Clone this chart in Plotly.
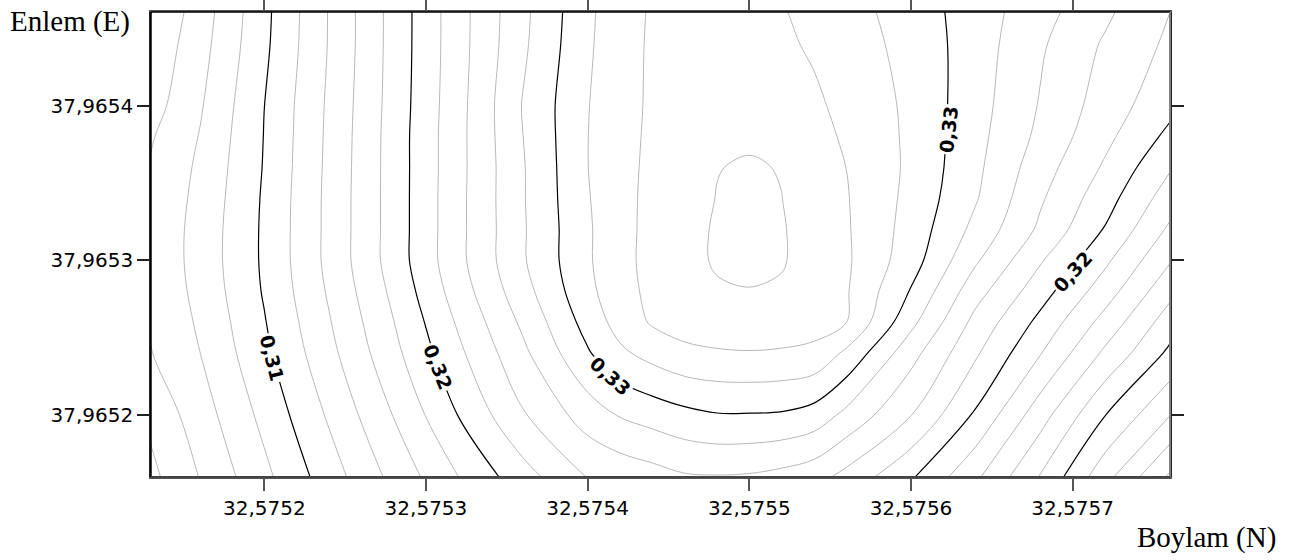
import plotly.graph_objects as go

# Longitude (Boylam) grid columns and latitude (Enlem) grid rows
lon = [32.57512, 32.57516, 32.57520, 32.57524, 32.57528, 32.57532, 32.57536,
       32.57540, 32.57542, 32.57544, 32.57546, 32.57548, 32.57550, 32.57552,
       32.57554, 32.57556, 32.57560, 32.57564, 32.57568, 32.57572, 32.57576]
lat = [37.96516, 37.96520, 37.96524, 37.96526, 37.96528, 37.96530, 37.96532,
       37.96534, 37.96536, 37.96538, 37.96540, 37.96544, 37.96548]

# Estimated field values, one row per latitude (bottom to top)
z_96516 = [0.30066, 0.30407, 0.30751, 0.31104, 0.31459, 0.31800, 0.32120, 0.32410, 0.32467, 0.32520, 0.32580, 0.32590, 0.32580, 0.32540, 0.32478, 0.32339, 0.32027, 0.31639, 0.31189, 0.30671, 0.30170]
z_96520 = [0.30170, 0.30504, 0.30856, 0.31227, 0.31608, 0.32006, 0.32382, 0.32696, 0.32816, 0.32883, 0.32947, 0.32989, 0.32990, 0.32980, 0.32919, 0.32750, 0.32406, 0.31972, 0.31486, 0.31006, 0.30610]
z_96524 = [0.30326, 0.30597, 0.30954, 0.31342, 0.31746, 0.32158, 0.32556, 0.32980, 0.33162, 0.33271, 0.33354, 0.33381, 0.33390, 0.33380, 0.33351, 0.33163, 0.32672, 0.32229, 0.31811, 0.31364, 0.30960]
z_96526 = [0.30344, 0.30628, 0.30988, 0.31385, 0.31796, 0.32226, 0.32639, 0.33077, 0.33279, 0.33423, 0.33484, 0.33511, 0.33520, 0.33510, 0.33481, 0.33404, 0.32855, 0.32339, 0.31946, 0.31530, 0.31100]
z_96528 = [0.30361, 0.30657, 0.31018, 0.31424, 0.31847, 0.32297, 0.32725, 0.33148, 0.33328, 0.33447, 0.33528, 0.33581, 0.33590, 0.33580, 0.33522, 0.33418, 0.32986, 0.32478, 0.32087, 0.31696, 0.31260]
z_96530 = [0.30370, 0.30673, 0.31031, 0.31451, 0.31889, 0.32344, 0.32779, 0.33174, 0.33343, 0.33457, 0.33545, 0.33619, 0.33668, 0.33614, 0.33527, 0.33429, 0.33090, 0.32628, 0.32221, 0.31841, 0.31420]
z_96532 = [0.30372, 0.30670, 0.31031, 0.31451, 0.31889, 0.32344, 0.32779, 0.33174, 0.33340, 0.33454, 0.33540, 0.33619, 0.33677, 0.33614, 0.33522, 0.33421, 0.33122, 0.32743, 0.32362, 0.31987, 0.31567]
z_96534 = [0.30363, 0.30654, 0.31025, 0.31451, 0.31889, 0.32344, 0.32785, 0.33186, 0.33342, 0.33449, 0.33528, 0.33605, 0.33658, 0.33602, 0.33504, 0.33413, 0.33144, 0.32817, 0.32426, 0.32082, 0.31700]
z_96536 = [0.30342, 0.30635, 0.31013, 0.31445, 0.31889, 0.32339, 0.32785, 0.33197, 0.33342, 0.33440, 0.33509, 0.33595, 0.33617, 0.33592, 0.33479, 0.33399, 0.33161, 0.32845, 0.32488, 0.32173, 0.31820]
z_96538 = [0.30307, 0.30608, 0.31006, 0.31439, 0.31889, 0.32339, 0.32799, 0.33197, 0.33342, 0.33431, 0.33482, 0.33534, 0.33574, 0.33512, 0.33450, 0.33380, 0.33160, 0.32863, 0.32552, 0.32251, 0.31950]
z_96540 = [0.30231, 0.30576, 0.30999, 0.31432, 0.31881, 0.32332, 0.32811, 0.33191, 0.33340, 0.33425, 0.33468, 0.33510, 0.33526, 0.33477, 0.33427, 0.33358, 0.33156, 0.32880, 0.32585, 0.32306, 0.32060]
z_96544 = [0.30158, 0.30521, 0.30959, 0.31412, 0.31874, 0.32321, 0.32765, 0.33167, 0.33335, 0.33422, 0.33460, 0.33498, 0.33465, 0.33427, 0.33379, 0.33303, 0.33131, 0.32899, 0.32628, 0.32375, 0.32163]
z_96548 = [0.30012, 0.30469, 0.30941, 0.31412, 0.31874, 0.32321, 0.32745, 0.33147, 0.33327, 0.33412, 0.33432, 0.33442, 0.33409, 0.33389, 0.33319, 0.33251, 0.33089, 0.32899, 0.32714, 0.32505, 0.32237]

z = [z_96516, z_96520, z_96524, z_96526, z_96528, z_96530, z_96532,
     z_96534, z_96536, z_96538, z_96540, z_96544, z_96548]

x_ticks = [32.5752, 32.5753, 32.5754, 32.5755, 32.5756, 32.5757]
y_ticks = [37.9652, 37.9653, 37.9654]
x_range = [32.57512993, 32.5757602]
y_range = [37.9651597, 37.9654606]

minor_bands = [(0.302, 0.3081), (0.312, 0.3181), (0.322, 0.3281), (0.332, 0.3361)]
major_levels = (0.31, 0.3301, 0.01)

# Contour label placement: level value, lon, lat, text angle
label_levels = [0.31, 0.32, 0.33, 0.33, 0.32]
label_lon = [32.5752049, 32.5753076, 32.5754140, 32.5756230, 32.5756997]
label_lat = [37.9652369, 37.9652311, 37.9652252, 37.9653845, 37.9652926]
label_angle = [76, 68, 42, -84, -48]

fig = go.Figure()
for s, e in minor_bands:
    fig.add_trace(go.Contour(
        x=lon, y=lat, z=z,
        contours=dict(start=s, end=e, size=0.002, coloring='none', showlabels=False),
        line=dict(color='#b8b8b8', width=1, smoothing=1.0),
        showscale=False, hoverinfo='skip'))

fig.add_trace(go.Contour(
    x=lon, y=lat, z=z,
    contours=dict(start=major_levels[0], end=major_levels[1], size=major_levels[2],
                  coloring='none', showlabels=False),
    line=dict(color='black', width=1.2, smoothing=1.0),
    showscale=False, hoverinfo='skip'))

axis_common = dict(showgrid=False, zeroline=False, ticks='outside', ticklen=12,
                   tickwidth=1.5, showline=True, linewidth=1.5, mirror='ticks',
                   tickformat='.4f', automargin=False,
                   tickfont=dict(family='DejaVu Sans', size=20, color='black'))

annotations = [
    dict(text='Enlem (E)', xref='paper', yref='paper', x=-0.1403, y=0.979,
         xanchor='left', yanchor='middle', showarrow=False,
         font=dict(family='Liberation Serif', size=29, color='black')),
    dict(text='Boylam (N)', xref='paper', yref='paper', x=1.106, y=-0.1305,
         xanchor='right', yanchor='middle', showarrow=False,
         font=dict(family='Liberation Serif', size=29, color='black')),
]
for lv, lx, ly, ang in zip(label_levels, label_lon, label_lat, label_angle):
    annotations.append(dict(
        text=f'{lv:.2f}'.replace('.', ','), x=lx, y=ly, xref='x', yref='y',
        showarrow=False, textangle=ang, bgcolor='white', borderpad=1,
        font=dict(family='DejaVu Sans', size=19, color='black', weight='bold')))

fig.update_layout(
    width=1298, height=560,
    margin=dict(l=151, r=128, t=12, b=83),
    paper_bgcolor='white', plot_bgcolor='white',
    separators=', ',
    showlegend=False,
    xaxis=dict(range=x_range, tickvals=x_ticks, linecolor='#555555', tickcolor='#555555',
               **axis_common),
    yaxis=dict(range=y_range, tickvals=y_ticks, linecolor='#222222', tickcolor='#222222',
               **axis_common),
    shapes=[
        dict(type='line', xref='paper', yref='paper', x0=0, x1=0, y0=0, y1=1,
             line=dict(color='black', width=1.5)),
        dict(type='line', xref='paper', yref='paper', x0=0, x1=1, y0=1, y1=1,
             line=dict(color='black', width=1.5)),
        dict(type='line', xref='paper', yref='paper', x0=1, x1=1, y0=0, y1=1,
             line=dict(color='#808080', width=2)),
        dict(type='line', xref='paper', yref='paper', x0=0, x1=1, y0=0, y1=0,
             line=dict(color='#444444', width=2)),
    ],
    annotations=annotations,
)

fig.write_html('out.html')
